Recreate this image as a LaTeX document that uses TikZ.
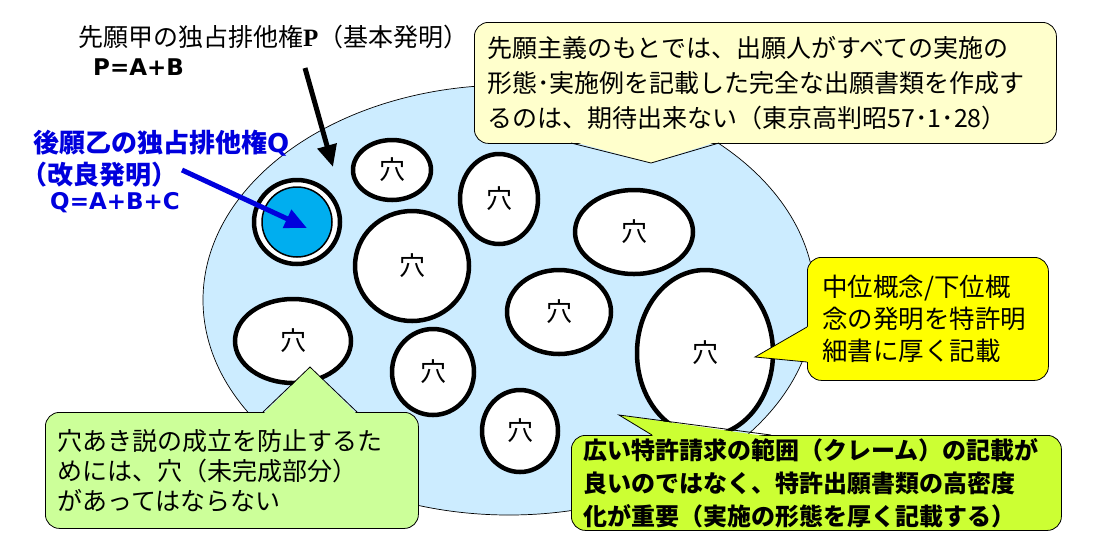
\documentclass[tikz,border=0pt]{standalone}
\usepackage{fontspec}
\usepackage{xcolor}
\usepackage{tikz}
\usetikzlibrary{shapes.geometric,arrows.meta}
\setmainfont{Noto Sans CJK JP}
\newfontfamily\eqfont{DejaVu Sans}
\newfontfamily\pserif{Liberation Serif}
\definecolor{holebg}{HTML}{CCECFF}
\definecolor{qcyan}{HTML}{00AEEF}
\definecolor{qtext}{HTML}{0000DD}
\definecolor{notecream}{HTML}{FFFFCC}
\definecolor{noteyellow}{HTML}{FFFF00}
\definecolor{notelime}{HTML}{CCFF33}
\definecolor{notegreen}{HTML}{CCFF99}

\begin{document}
\begin{tikzpicture}[x=1pt,y=-1pt,
    hole/.style={ellipse,draw,line width=4.5pt,fill=white,inner sep=0pt,font=\fontsize{26}{26}\selectfont},
    note/.style={rounded corners=14pt,draw,line width=0.8pt,inner xsep=13pt,inner ysep=0pt,anchor=north west,align=left},
    fatarrow/.style={line width=5pt,-{Triangle[length=22pt,width=19pt]}}]
    \useasboundingbox (0,0) rectangle (1105,550);
    \draw[fill=holebg,line width=0.7pt] (509,300) ellipse [x radius=306,y radius=215];

    \node[hole,minimum width=78pt,minimum height=60pt] (h1) at (392,170) {穴};
    \node[hole,minimum width=78pt,minimum height=90pt] (h2) at (499,199) {穴};
    \node[hole,minimum width=118pt,minimum height=84pt] (h3) at (634,232) {穴};
    \node[hole,minimum width=114pt,minimum height=110pt] (h4) at (412,266) {穴};
    \node[hole,minimum width=104pt,minimum height=84pt] (h5) at (559,312) {穴};
    \node[hole,minimum width=116pt,minimum height=84pt] (h6) at (293,341) {穴};
    \node[hole,minimum width=136pt,minimum height=166pt] (h7) at (705,353) {穴};
    \node[hole,minimum width=82pt,minimum height=86pt] (h8) at (433,372) {穴};
    \node[hole,minimum width=76pt,minimum height=82pt] (h9) at (520,431) {穴};

    \node[hole,minimum width=86pt,minimum height=84pt] (q) at (297,222) {};
    \node[circle,draw,line width=1.5pt,fill=qcyan,minimum size=70pt,inner sep=0pt] (qcore) at (q.center) {};

    \node[note,fill=notecream,minimum height=121pt,text width=556pt,font=\fontsize{25}{35}\selectfont] (n1) at (474,22)
        {先願主義のもとでは、出願人がすべての実施の\\形態･実施例を記載した完全な出願書類を作成す\\るのは、期待出来ない（東京高判昭57･1･28）};
    \fill[notecream] (571,141) -- (651,163) -- (719,141) -- cycle;
    \draw[line width=0.8pt] (571,143) -- (651,163) -- (719,143);

    \node[note,fill=noteyellow,inner xsep=15pt,minimum height=123pt,text width=211pt,font=\fontsize{25.5}{32}\selectfont] (n2) at (807,257)
        {中位概念/下位概\\念の発明を特許明\\細書に厚く記載};
    \fill[noteyellow] (809,326) -- (755,357) -- (809,362) -- cycle;
    \draw[line width=0.8pt] (807,327) -- (755,357) -- (807,362);

    \node[note,fill=notegreen,inner xsep=12pt,minimum height=116pt,text width=349pt,font=\fontsize{25}{30}\selectfont] (n4) at (45,412)
        {穴あき説の成立を防止するた\\めには、穴（未完成部分）\\があってはならない};
    \fill[notegreen] (263,414) -- (310,367) -- (357,414) -- cycle;
    \draw[line width=0.8pt] (263,412) -- (310,367) -- (357,412);

    \node[note,fill=notelime,inner xsep=12pt,minimum height=95pt,text width=466pt,font=\bfseries\fontsize{24}{33}\selectfont] (n3) at (571,435)
        {広い特許請求の範囲（クレーム）の記載が\\良いのではなく、特許出願書類の高密度\\化が重要（実施の形態を厚く記載する）};
    \fill[notelime] (619,415) -- (655,437) -- (771,437) -- cycle;
    \draw[line width=0.8pt] (652,435) -- (619,415) -- (771,435);

    \node[anchor=west,inner sep=0pt,font=\fontsize{25}{25}\selectfont] (ptitle) at (78,37) {先願甲の独占排他権{\pserif\bfseries P}（基本発明）};
    \node[anchor=west,inner sep=0pt,font=\eqfont\bfseries\fontsize{23}{23}\selectfont] (peq) at (93,67) {P=A+B};
    \node[anchor=west,inner sep=0pt,text=qtext,font=\bfseries\fontsize{26}{26}\selectfont] (qtitle) at (33,143) {後願乙の独占排他権{\eqfont Q}};
    \node[anchor=west,inner sep=0pt,text=qtext,font=\bfseries\fontsize{26}{26}\selectfont] (qsub) at (21,175) {（改良発明）};
    \node[anchor=west,inner sep=0pt,text=qtext,font=\eqfont\bfseries\fontsize{23}{23}\selectfont] (qeq) at (50,203) {Q=A+B+C};

    \coordinate (ptail) at (305,68);
    \coordinate (ptip) at (333,167);
    \draw[fatarrow] (ptail) -- (ptip);
    \coordinate (qtail) at (182,170);
    \coordinate (qtip) at (307,228);
    \draw[fatarrow,qtext] (qtail) -- (qtip);
\end{tikzpicture}
\end{document}
